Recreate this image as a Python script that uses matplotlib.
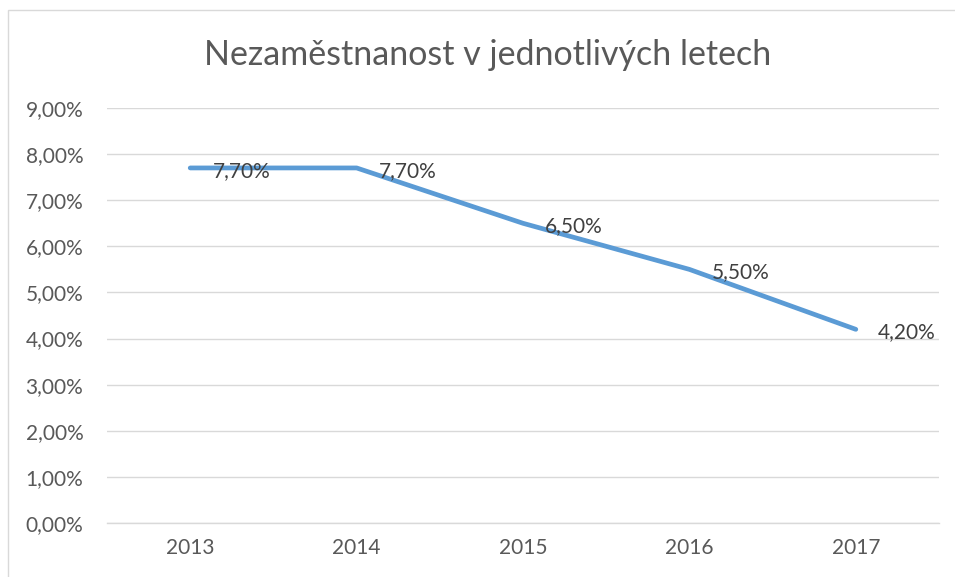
import matplotlib
matplotlib.use("Agg")
import matplotlib.pyplot as plt
from matplotlib.patches import Rectangle
from matplotlib.ticker import FuncFormatter

years = ["2013", "2014", "2015", "2016", "2017"]
unemployment = [7.70, 7.70, 6.50, 5.50, 4.20]
yticks = [0, 1, 2, 3, 4, 5, 6, 7, 8, 9]
title = "Nezaměstnanost v jednotlivých letech"

plt.rcParams['font.family'] = ['Lato', 'DejaVu Sans']

W, H = 955, 577
fig = plt.figure(figsize=(W / 100, H / 100), dpi=100)
fig.patch.set_facecolor("white")

# chart border (left/top visible)
fig.patches.append(Rectangle((7.5 / W, -0.05), 1.2, (H - 9.5) / H + 0.05,
                             transform=fig.transFigure, fill=False,
                             edgecolor="#d9d9d9", linewidth=1.0))

ax = fig.add_axes([107 / W, (H - 523) / H, (939 - 107) / W, (523 - 108) / H])
x = list(range(len(years)))
ax.plot(x, unemployment, color="#5B9BD5", linewidth=3.4, solid_capstyle="round",
        solid_joinstyle="round", zorder=3)

for xi, v in zip(x, unemployment):
    ax.annotate(f"{v:.2f}%".replace(".", ","), (xi, v), xytext=(16, -2),
                textcoords="offset points", va="center", ha="left",
                fontsize=15, color="#404040", zorder=4)

ax.set_xlim(-0.5, len(years) - 0.5)
ax.set_ylim(0, 9)
ax.set_yticks(yticks)
ax.yaxis.set_major_formatter(FuncFormatter(lambda v, p: f"{v:.2f}%".replace(".", ",")))
ax.set_xticks(x)
ax.set_xticklabels(years)
ax.grid(axis="y", color="#d9d9d9", linewidth=1.0)
ax.set_axisbelow(True)
for s in ["top", "right", "left"]:
    ax.spines[s].set_visible(False)
ax.spines["bottom"].set_color("#d9d9d9")
ax.spines["bottom"].set_linewidth(1.0)
ax.tick_params(axis="both", length=0, labelsize=15, colors="#595959")
ax.tick_params(axis="y", pad=17)
ax.tick_params(axis="x", pad=11)

fig.text(488 / W, 1 - 55 / H, title, ha="center", va="center",
         fontsize=24.5, color="#595959")

fig.savefig("out.png", dpi=100, facecolor="white")
